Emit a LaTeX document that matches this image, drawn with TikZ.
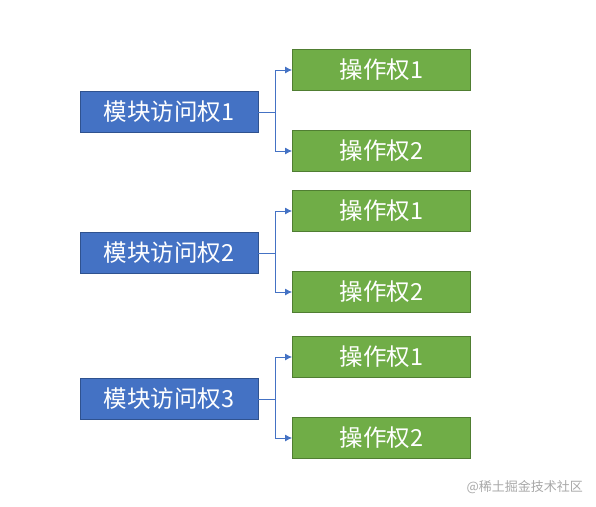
\documentclass[tikz,border=0pt]{standalone}
\usepackage{fontspec}
\setmainfont{Noto Sans CJK SC}
\usetikzlibrary{arrows.meta}
\definecolor{bluefill}{HTML}{4472C4}
\definecolor{blueline}{HTML}{2F528F}
\definecolor{greenfill}{HTML}{70AD47}
\definecolor{greenline}{HTML}{507E32}
\definecolor{wmgray}{HTML}{A8A8A8}
\tikzset{
  modbox/.style={draw=blueline, fill=bluefill, line width=0.8pt, minimum width=178pt, minimum height=41pt, inner sep=0pt, text=white, font=\fontsize{23.5}{26}\selectfont},
  opbox/.style={draw=greenline, fill=greenfill, line width=0.8pt, minimum width=178pt, minimum height=41pt, inner sep=0pt, text=white, font=\fontsize{23.5}{26}\selectfont},
  conn/.style={draw=bluefill, line width=1pt, -{Latex[length=7pt,width=7pt]}}
}
\begin{document}
\begin{tikzpicture}[x=1pt,y=-1pt]
\useasboundingbox (0,0) rectangle (596,506);
% group 1
\node[modbox] (m1) at (169,112) {模块访问权1};
\node[opbox] (o11) at (381.5,70) {操作权1};
\node[opbox] (o12) at (381.5,151) {操作权2};
% group 2
\node[modbox] (m2) at (169,253) {模块访问权2};
\node[opbox] (o21) at (381.5,211) {操作权1};
\node[opbox] (o22) at (381.5,292) {操作权2};
% group 3
\node[modbox] (m3) at (169,399) {模块访问权3};
\node[opbox] (o31) at (381.5,357) {操作权1};
\node[opbox] (o32) at (381.5,438) {操作权2};
% connectors
\foreach \m/\a/\b in {m1/o11/o12, m2/o21/o22, m3/o31/o32}{
  \draw[conn] (\m.east) -- ++(17,0) |- (\a.west);
  \draw[conn] (\m.east) -- ++(17,0) |- (\b.west);
}
% watermark
\node[text=wmgray, font=\fontsize{13}{15}\selectfont, anchor=east, inner sep=0pt] (wm) at (583,487) {@稀土掘金技术社区};
\end{tikzpicture}
\end{document}
